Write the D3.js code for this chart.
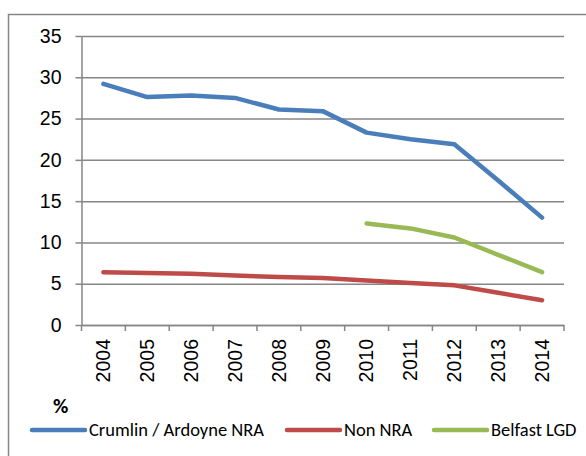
<!DOCTYPE html>
<html>
<head>
<meta charset="utf-8">
<script src="https://cdn.jsdelivr.net/npm/d3@7.9.0/dist/d3.min.js"></script>
<style>
  body { margin: 0; background: #fff; }
  svg { display: block; font-family: Calibri, Carlito, "Liberation Sans", Arial, sans-serif; }
</style>
</head>
<body>
<div id="chart"></div>
<script>
const years = ['2004', '2005', '2006', '2007', '2008', '2009', '2010', '2011', '2012', '2013', '2014'];
const crumlin = [29.2, 27.6, 27.8, 27.5, 26.1, 25.9, 23.3, 22.5, 21.9, 17.5, 13.0];
const nonNra = [6.4, 6.3, 6.2, 6.0, 5.8, 5.7, 5.4, 5.1, 4.8, 3.9, 3.0];
const belfast = [null, null, null, null, null, null, 12.3, 11.7, 10.6, 8.5, 6.4];
const yTicks = [0, 5, 10, 15, 20, 25, 30, 35];

const seriesList = [
    { name: 'Crumlin / Ardoyne NRA', values: crumlin, color: '#4A7EBB' },
    { name: 'Non NRA', values: nonNra, color: '#BE4B48' },
    { name: 'Belfast LGD', values: belfast, color: '#98B954' }
];

const width = 586;
const height = 456;
const plot = { left: 81.5, right: 564, top: 36, bottom: 325 };

const svg = d3.select('#chart')
    .append('svg')
    .attr('width', width)
    .attr('height', height);

// outer frame
svg.append('rect')
    .attr('x', 8.5).attr('y', 14.5)
    .attr('width', 600).attr('height', 500)
    .attr('fill', 'none')
    .attr('stroke', '#868686')
    .attr('stroke-width', 1.5);

const x = d3.scaleBand()
    .domain(years)
    .range([plot.left, plot.right]);

const y = d3.scaleLinear()
    .domain([0, 35])
    .range([plot.bottom, plot.top]);

// gridlines
svg.append('g')
    .attr('transform', `translate(${plot.left},0)`)
    .call(d3.axisLeft(y).tickValues(yTicks).tickSize(-(plot.right - plot.left)).tickFormat(''))
    .call(g => g.select('.domain').remove())
    .call(g => g.selectAll('.tick line').attr('stroke', '#868686').attr('stroke-width', 1.5));

// y axis
svg.append('g')
    .attr('transform', `translate(${plot.left},0)`)
    .call(d3.axisLeft(y).tickValues(yTicks).tickSize(6).tickSizeOuter(0).tickPadding(14))
    .call(g => g.select('.domain').attr('stroke', '#868686').attr('stroke-width', 1.5))
    .call(g => g.selectAll('.tick line').attr('stroke', '#868686').attr('stroke-width', 1.5))
    .call(g => g.selectAll('.tick text').attr('fill', '#000').style('font-size', '19.5px'));

// x axis
const xAxis = svg.append('g')
    .attr('transform', `translate(0,${plot.bottom})`)
    .call(d3.axisBottom(x).tickSize(0).tickSizeOuter(0))
    .call(g => g.select('.domain').attr('stroke', '#868686').attr('stroke-width', 1.5));

xAxis.selectAll('.tick text')
    .attr('fill', '#000')
    .style('font-size', '19.5px')
    .attr('text-anchor', 'end')
    .attr('dy', '0.35em')
    .attr('transform', 'translate(0,14) rotate(-90)')
    .attr('x', 0)
    .attr('y', 0);

// x tick marks at category boundaries
const bounds = years.map(d => x(d)).concat([plot.right]);
xAxis.selectAll('line.sep')
    .data(bounds)
    .join('line')
    .attr('class', 'sep')
    .attr('x1', d => d).attr('x2', d => d)
    .attr('y1', 0).attr('y2', 6)
    .attr('stroke', '#868686')
    .attr('stroke-width', 1.5);

// lines
const line = d3.line()
    .defined(d => d != null)
    .x((d, i) => x(years[i]) + x.bandwidth() / 2)
    .y(d => y(d));

svg.selectAll('path.series')
    .data(seriesList)
    .join('path')
    .attr('class', 'series')
    .attr('d', d => line(d.values))
    .attr('fill', 'none')
    .attr('stroke', d => d.color)
    .attr('stroke-width', 4.5)
    .attr('stroke-linecap', 'round')
    .attr('stroke-linejoin', 'round');

// % label
svg.append('text')
    .attr('x', 53)
    .attr('y', 413)
    .style('font-size', '21px')
    .style('font-weight', 'bold')
    .text('%');

// legend
const legendX = [32, 287, 434];
const legend = svg.selectAll('g.legend')
    .data(seriesList)
    .join('g')
    .attr('class', 'legend')
    .attr('transform', (d, i) => `translate(${legendX[i]},430)`);

legend.append('line')
    .attr('x1', 0).attr('x2', 53)
    .attr('y1', 0).attr('y2', 0)
    .attr('stroke', d => d.color)
    .attr('stroke-width', 4.5)
    .attr('stroke-linecap', 'round');

legend.append('text')
    .attr('x', 57)
    .attr('y', 0)
    .attr('dy', '0.35em')
    .style('font-size', '18.5px')
    .text(d => d.name);
</script>
</body>
</html>
